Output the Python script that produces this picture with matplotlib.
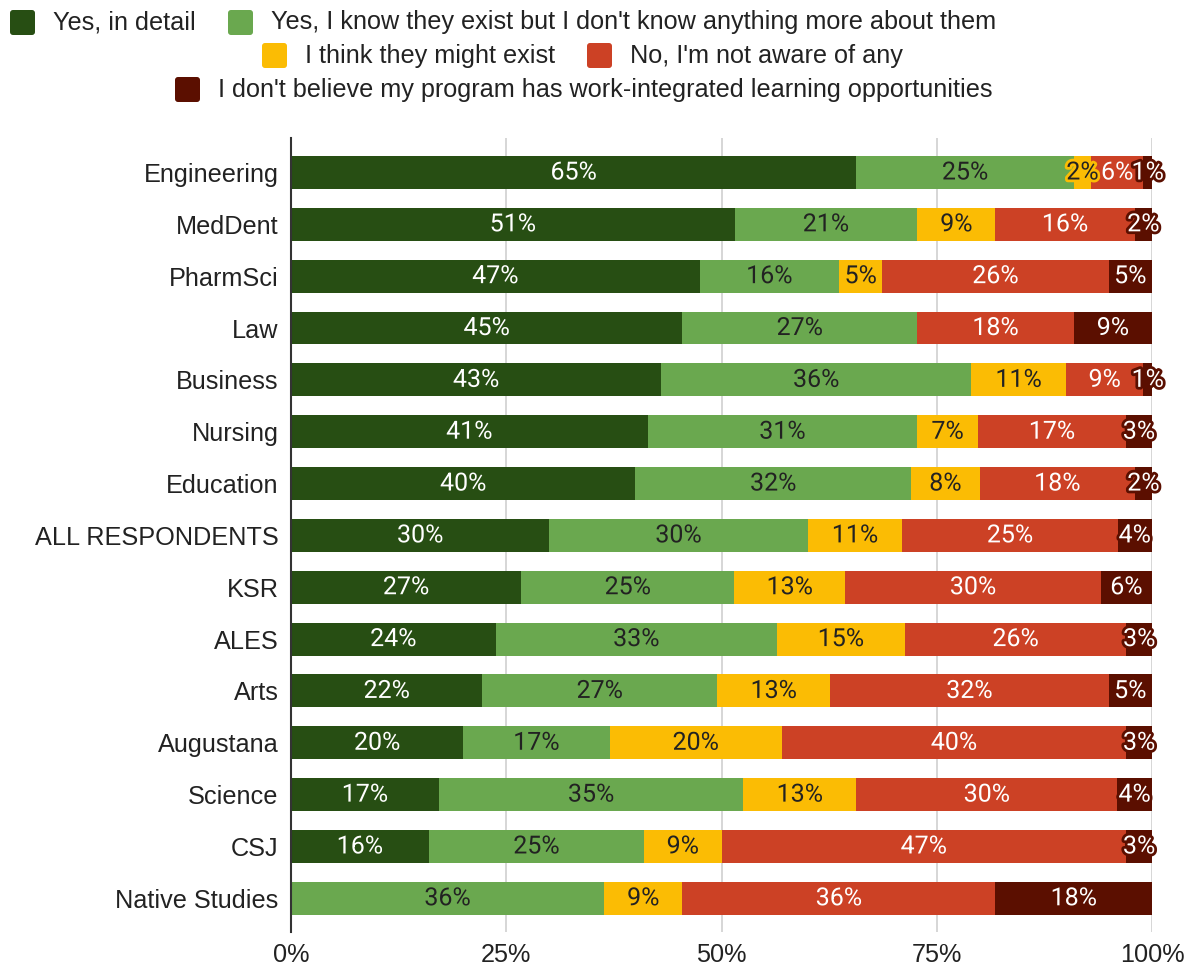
import matplotlib.pyplot as plt
import matplotlib.patheffects as pe
from matplotlib.patches import FancyBboxPatch
from matplotlib.transforms import IdentityTransform
import numpy as np

programs = ["Engineering", "MedDent", "PharmSci", "Law", "Business", "Nursing",
            "Education", "ALL RESPONDENTS", "KSR", "ALES", "Arts", "Augustana",
            "Science", "CSJ", "Native Studies"]

detail = [65, 51, 47, 45, 43, 41, 40, 30, 27, 24, 22, 20, 17, 16, 0]
exist = [25, 21, 16, 27, 36, 31, 32, 30, 25, 33, 27, 17, 35, 25, 36]
might = [2, 9, 5, 0, 11, 7, 8, 11, 13, 15, 13, 20, 13, 9, 9]
not_aware = [6, 16, 26, 18, 9, 17, 18, 25, 30, 26, 32, 40, 30, 47, 36]
no_wil = [1, 2, 5, 9, 1, 3, 2, 4, 6, 3, 5, 3, 4, 3, 18]

series_names = ["Yes, in detail",
                "Yes, I know they exist but I don't know anything more about them",
                "I think they might exist",
                "No, I'm not aware of any",
                "I don't believe my program has work-integrated learning opportunities"]
colors = ["#274e13", "#6aa84f", "#fbbc04", "#cc4125", "#5b0f00"]
label_colors = ["white", "#222222", "#222222", "white", "white"]

W, H = 1191, 968
fig = plt.figure(figsize=(W / 100, H / 100), dpi=100)
ax = fig.add_axes([291 / W, 1 - 932 / H, (1152 - 291) / W, (932 - 138) / H])

series = np.array([detail, exist, might, not_aware, no_wil], dtype=float)
shares = series / series.sum(axis=0) * 100
y = np.arange(len(programs))

left = np.zeros(len(programs))
for k in range(len(series)):
    ax.barh(y, shares[k], left=left, height=0.636, color=colors[k], zorder=3)
    for i in range(len(programs)):
        if series[k, i] > 0:
            ax.text(left[i] + shares[k, i] / 2, y[i], f"{int(series[k, i])}%",
                    ha="center", va="center", fontsize=18, family="Roboto",
                    color=label_colors[k], zorder=5,
                    path_effects=[pe.withStroke(linewidth=4, foreground=colors[k])])
    left += shares[k]

ax.set_xlim(0, 100)
ax.set_ylim(len(programs) - 1 + 0.65, -0.665)
ax.set_yticks(y)
ax.set_yticklabels(programs, family="Liberation Sans", fontsize=18.2, color="#222222")
ax.set_xticks([0, 25, 50, 75, 100])
ax.set_xticklabels(["0%", "25%", "50%", "75%", "100%"], family="Liberation Sans",
                   fontsize=18.2, color="#222222")
ax.tick_params(axis="both", length=0)
ax.tick_params(axis="y", pad=9)
ax.tick_params(axis="x", pad=8)
ax.grid(axis="x", color="#cccccc", linewidth=1.1, zorder=0)
for side in ["top", "right", "bottom"]:
    ax.spines[side].set_visible(False)
ax.spines["left"].set_color("#333333")
ax.spines["left"].set_linewidth(1.5)
ax.spines["left"].set_zorder(4)

# legend laid out by hand in three centred rows
legend_items = [(0, 10, 22.5), (1, 228, 22.5), (2, 262, 55.5), (3, 587, 55.5), (4, 175, 89.5)]
for k, x0, yc in legend_items:
    box = FancyBboxPatch((x0, H - yc - 12.5), 25, 25,
                         boxstyle="round,pad=0,rounding_size=3",
                         facecolor=colors[k], edgecolor="none",
                         transform=IdentityTransform())
    fig.add_artist(box)
    fig.text((x0 + 43) / W, 1 - yc / H, series_names[k], ha="left", va="center",
             family="Liberation Sans", fontsize=18.2, color="#222222")

fig.savefig("out.png", dpi=100)
